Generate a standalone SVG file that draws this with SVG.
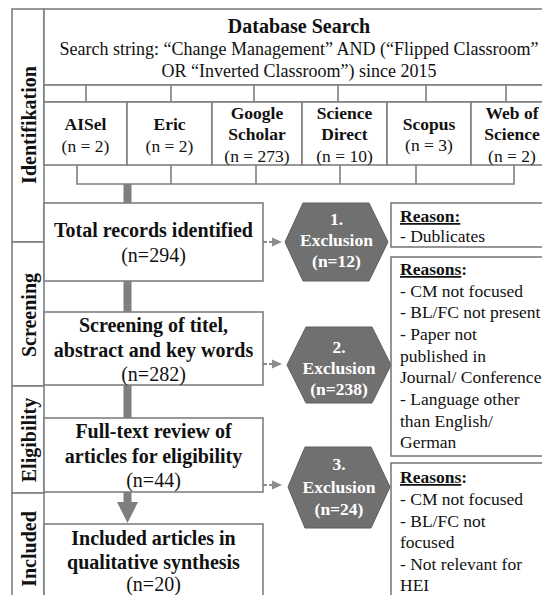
<svg xmlns="http://www.w3.org/2000/svg" width="542" height="595" viewBox="0 0 542 595">
<style>
.b{fill:#fff;stroke:#7f7f7f;stroke-width:1.6}
.r{fill:#fff;stroke:#6a6a6a;stroke-width:1.4}
.hx{fill:#707070;stroke:#5e5e5e;stroke-width:1}
text{fill:#111}
.bd{font-weight:bold}
.c{text-anchor:middle}
.s20{font-size:20px}
.s18{font-size:18px}
.s17{font-size:17.5px}
text.w{fill:#fff}
.tr{fill:#7f7f7f}
.dl{stroke:#8c8c8c;stroke-width:2;stroke-dasharray:4,2;fill:none}
.ah{fill:#8c8c8c}
.ln{stroke:#7f7f7f;stroke-width:1.6;fill:none}
</style>
<rect width="542" height="595" fill="#fff"/>
<g font-family="'Liberation Serif', 'Times New Roman', serif">
<g id="phase-identifikation"><rect class="b" x="12" y="9" width="32" height="233"/><text class="bd s20 c" transform="translate(36,125) rotate(-90)">Identifikation</text></g>
<g id="phase-screening"><rect class="b" x="12" y="242" width="32" height="144"/><text class="bd s20 c" transform="translate(36,315) rotate(-90)">Screening</text></g>
<g id="phase-eligibility"><rect class="b" x="12" y="386" width="32" height="107"/><text class="bd s20 c" transform="translate(36,440) rotate(-90)">Eligibility</text></g>
<g id="phase-included"><rect class="b" x="12" y="493" width="32" height="112"/><text class="bd s20 c" transform="translate(36,549) rotate(-90)">Included</text></g>

<g id="database-search">
<rect class="b" x="44" y="9" width="520" height="76"/>
<text class="bd c" font-size="20" x="299" y="33">Database Search</text>
<text class="s18 c" x="299" y="55">Search string: “Change Management” AND (“Flipped Classroom”</text>
<text class="s18 c" x="299" y="77">OR “Inverted Classroom”) since 2015</text>
</g>

<g id="connectors">
<rect class="b" x="44" y="85" width="520" height="17"/>
<path class="ln" d="M86,85V102M171,85V102M254,85V102M338,85V102M426,85V102M506,85V102"/>
<path class="ln" d="M77,165V184H514V165M171,165V184M256,165V184M340,165V184M416,165V184"/>
<rect class="tr" x="123.5" y="184" width="8" height="19"/>
<rect class="tr" x="123.5" y="281" width="8" height="31"/>
<rect class="tr" x="123.5" y="385" width="8" height="33"/>
<rect class="tr" x="123.5" y="492" width="8" height="11"/>
<polygon class="tr" points="117,502 138,502 127.5,523"/>
<line class="dl" x1="263" y1="242" x2="273" y2="242"/><polygon class="ah" points="272,237.5 282,242 272,246.5"/>
<line class="dl" x1="263" y1="364" x2="273" y2="364"/><polygon class="ah" points="272,359.5 282,364 272,368.5"/>
<line class="dl" x1="263" y1="485" x2="273" y2="485"/><polygon class="ah" points="272,480.5 282,485 272,489.5"/>
</g>

<g id="db-aisel"><rect class="b" x="44" y="102" width="83" height="63"/>
<text class="bd s17 c" x="85.5" y="130">AISel</text><text class="s17 c" x="85.5" y="152">(n = 2)</text></g>
<g id="db-eric"><rect class="b" x="127" y="102" width="85" height="63"/>
<text class="bd s17 c" x="169.5" y="130">Eric</text><text class="s17 c" x="169.5" y="152">(n = 2)</text></g>
<g id="db-google"><rect class="b" x="212" y="102" width="90" height="63"/>
<text class="bd s17 c" x="257" y="119">Google</text><text class="bd s17 c" x="257" y="140">Scholar</text><text class="s17 c" x="257" y="162">(n = 273)</text></g>
<g id="db-sciencedirect"><rect class="b" x="302" y="102" width="85" height="63"/>
<text class="bd s17 c" x="344.5" y="119">Science</text><text class="bd s17 c" x="344.5" y="140">Direct</text><text class="s17 c" x="344.5" y="162">(n = 10)</text></g>
<g id="db-scopus"><rect class="b" x="387" y="102" width="84" height="63"/>
<text class="bd s17 c" x="429" y="130">Scopus</text><text class="s17 c" x="429" y="151">(n = 3)</text></g>
<g id="db-wos"><rect class="b" x="471" y="102" width="90" height="63"/>
<text class="bd s17 c" x="512" y="119">Web of</text><text class="bd s17 c" x="512" y="140">Science</text><text class="s17 c" x="512" y="162">(n = 2)</text></g>

<g id="total-records"><rect class="b" x="44" y="203" width="219" height="78"/>
<text class="bd s20 c" x="153.5" y="237">Total records identified</text><text class="s20 c" x="153.5" y="262">(n=294)</text></g>
<g id="screening"><rect class="b" x="44" y="312" width="219" height="73"/>
<text class="bd s20 c" x="153.5" y="332">Screening of titel,</text><text class="bd s20 c" x="153.5" y="357">abstract and key words</text><text class="s20 c" x="153.5" y="381">(n=282)</text></g>
<g id="fulltext"><rect class="b" x="44" y="418" width="219" height="74"/>
<text class="bd s20 c" x="153.5" y="438">Full-text review of</text><text class="bd s20 c" x="153.5" y="463">articles for eligibility</text><text class="s20 c" x="153.5" y="487">(n=44)</text></g>
<g id="included"><rect class="b" x="44" y="524" width="219" height="81"/>
<text class="bd s20 c" x="153.5" y="545">Included articles in</text><text class="bd s20 c" x="153.5" y="569">qualitative synthesis</text><text class="s20 c" x="153.5" y="591">(n=20)</text></g>

<g id="exclusion-1"><polygon class="hx" points="285,242 303,203 369,203 388,242 369,281 303,281"/>
<text class="bd s17 c w" x="336.5" y="225">1.</text><text class="bd s17 c w" x="336.5" y="246">Exclusion</text><text class="bd s17 c w" x="336.5" y="267">(n=12)</text></g>
<g id="exclusion-2"><polygon class="hx" points="287,365 306,327 372,327 391,365 372,403 306,403"/>
<text class="bd s17 c w" x="339" y="353">2.</text><text class="bd s17 c w" x="339" y="374">Exclusion</text><text class="bd s17 c w" x="339" y="395">(n=238)</text></g>
<g id="exclusion-3"><polygon class="hx" points="288,487 305,447 371,447 390,487 371,528 305,528"/>
<text class="bd s17 c w" x="339" y="470">3.</text><text class="bd s17 c w" x="339" y="493">Exclusion</text><text class="bd s17 c w" x="339" y="515">(n=24)</text></g>

<g id="reason-1"><rect class="r" x="391" y="203" width="170" height="44"/>
<text class="s17" x="400" y="222"><tspan font-weight="bold" text-decoration="underline">Reason:</tspan></text>
<text class="s17" x="400" y="242">- Dublicates</text></g>
<g id="reason-2"><rect class="r" x="391" y="257" width="170" height="199"/>
<text class="s17" x="400" y="275"><tspan font-weight="bold" text-decoration="underline">Reasons</tspan><tspan font-weight="bold">:</tspan></text>
<text class="s17" x="400" y="297">- CM not focused</text>
<text class="s17" x="400" y="318">- BL/FC not present</text>
<text class="s17" x="400" y="340">- Paper not</text>
<text class="s17" x="400" y="362">published in</text>
<text class="s17" x="400" y="383">Journal/ Conference</text>
<text class="s17" x="400" y="405">- Language other</text>
<text class="s17" x="400" y="427">than English/</text>
<text class="s17" x="400" y="448">German</text></g>
<g id="reason-3"><rect class="r" x="391" y="463" width="170" height="142"/>
<text class="s17" x="400" y="483"><tspan font-weight="bold" text-decoration="underline">Reasons</tspan><tspan font-weight="bold">:</tspan></text>
<text class="s17" x="400" y="505">- CM not focused</text>
<text class="s17" x="400" y="527">- BL/FC not</text>
<text class="s17" x="400" y="548">focused</text>
<text class="s17" x="400" y="570">- Not relevant for</text>
<text class="s17" x="400" y="591">HEI</text></g>
</g>
</svg>
